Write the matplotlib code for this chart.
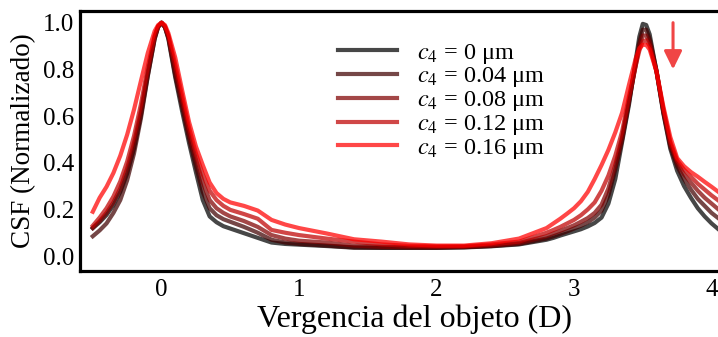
import matplotlib
matplotlib.use('Agg')
import matplotlib.pyplot as plt

plt.rcParams['font.family'] = ['Liberation Serif', 'DejaVu Serif']
plt.rcParams['mathtext.fontset'] = 'stix'

# vergencia del objeto (D)
x = [-0.5, -0.45, -0.4, -0.35, -0.3, -0.25, -0.2, -0.15, -0.1, -0.05, -0.025, 0,
     0.025, 0.05, 0.1, 0.15, 0.2, 0.25, 0.3, 0.35, 0.4, 0.45, 0.5,
     0.6, 0.7, 0.8, 0.9, 1.0, 1.2, 1.4, 1.6, 1.8, 2.0, 2.2, 2.4, 2.6,
     2.8, 2.85, 2.9, 2.95, 3.0, 3.05, 3.1, 3.15, 3.2, 3.25, 3.3, 3.35, 3.4, 3.45, 3.475, 3.5,
     3.525, 3.55, 3.6, 3.65, 3.7, 3.75, 3.8, 3.85, 3.9, 3.95, 4.0, 4.05]

# CSF normalizada, una serie por valor de c4
csf_c0 = [0.12, 0.145, 0.176, 0.218, 0.275, 0.354, 0.461, 0.603, 0.774, 0.932, 0.982, 1.0,
          0.98, 0.93, 0.765, 0.62, 0.485, 0.36, 0.24, 0.17, 0.145, 0.128, 0.118,
          0.098, 0.078, 0.058, 0.052, 0.049, 0.043, 0.036, 0.035, 0.035, 0.035, 0.037, 0.042, 0.05,
          0.07, 0.078, 0.088, 0.097, 0.106, 0.115, 0.127, 0.142, 0.165, 0.225, 0.33, 0.49, 0.65, 0.845, 0.94, 0.995,
          0.99, 0.95, 0.79, 0.61, 0.46, 0.365, 0.3, 0.25, 0.205, 0.17, 0.14, 0.115]
csf_c004 = [0.085, 0.11, 0.14, 0.185, 0.24, 0.325, 0.44, 0.59, 0.77, 0.93, 0.98, 1.0,
            0.98, 0.935, 0.775, 0.64, 0.505, 0.385, 0.275, 0.205, 0.175, 0.158, 0.147,
            0.125, 0.1, 0.07, 0.058, 0.052, 0.045, 0.037, 0.036, 0.036, 0.036, 0.038, 0.043, 0.052,
            0.075, 0.085, 0.095, 0.106, 0.118, 0.13, 0.145, 0.165, 0.195, 0.26, 0.37, 0.5, 0.66, 0.83, 0.915, 0.97,
            0.97, 0.93, 0.795, 0.615, 0.47, 0.385, 0.33, 0.285, 0.245, 0.215, 0.185, 0.162]
csf_c008 = [0.12, 0.15, 0.185, 0.23, 0.29, 0.375, 0.485, 0.62, 0.79, 0.94, 0.983, 1.0,
            0.982, 0.94, 0.795, 0.66, 0.525, 0.415, 0.315, 0.24, 0.205, 0.185, 0.17,
            0.15, 0.125, 0.09, 0.075, 0.066, 0.058, 0.045, 0.04, 0.038, 0.038, 0.04, 0.045, 0.056,
            0.085, 0.097, 0.108, 0.12, 0.132, 0.147, 0.163, 0.185, 0.22, 0.29, 0.39, 0.51, 0.67, 0.82, 0.9, 0.945,
            0.945, 0.915, 0.79, 0.62, 0.48, 0.4, 0.35, 0.315, 0.28, 0.25, 0.225, 0.2]
csf_c012 = [0.13, 0.165, 0.205, 0.255, 0.32, 0.405, 0.515, 0.65, 0.81, 0.945, 0.985, 1.0,
            0.985, 0.945, 0.82, 0.685, 0.55, 0.44, 0.35, 0.28, 0.24, 0.215, 0.198,
            0.18, 0.16, 0.112, 0.1, 0.09, 0.075, 0.062, 0.05, 0.044, 0.042, 0.042, 0.05, 0.062,
            0.1, 0.112, 0.125, 0.14, 0.155, 0.175, 0.2, 0.23, 0.28, 0.345, 0.43, 0.535, 0.685, 0.82, 0.88, 0.92,
            0.925, 0.9, 0.79, 0.63, 0.49, 0.41, 0.37, 0.34, 0.31, 0.285, 0.26, 0.238]
csf_c016 = [0.19, 0.25, 0.297, 0.356, 0.43, 0.52, 0.628, 0.75, 0.87, 0.964, 0.99, 1.0,
            0.99, 0.955, 0.85, 0.71, 0.575, 0.47, 0.39, 0.315, 0.27, 0.245, 0.23,
            0.215, 0.195, 0.155, 0.135, 0.12, 0.097, 0.072, 0.062, 0.05, 0.045, 0.045, 0.055, 0.075,
            0.12, 0.14, 0.16, 0.182, 0.205, 0.235, 0.275, 0.33, 0.39, 0.455, 0.53, 0.615, 0.735, 0.85, 0.89, 0.905,
            0.905, 0.885, 0.79, 0.64, 0.51, 0.42, 0.385, 0.36, 0.34, 0.318, 0.297, 0.275]

series = [csf_c0, csf_c004, csf_c008, csf_c012, csf_c016]
labels = ['$c_4$ = 0 μm', '$c_4$ = 0.04 μm', '$c_4$ = 0.08 μm',
          '$c_4$ = 0.12 μm', '$c_4$ = 0.16 μm']
colors = [(0, 0, 0), (0.25, 0, 0), (0.5, 0, 0), (0.75, 0, 0), (1, 0, 0)]
xticks = [0, 1, 2, 3, 4]
yticks = [0.0, 0.2, 0.4, 0.6, 0.8, 1.0]

fig = plt.figure(figsize=(7.18, 3.37), dpi=100)
ax = fig.add_axes([0.1114, 0.1958, 0.8886, 0.7715])

for y, lab, c in zip(series, labels, colors):
    ax.plot(x, y, color=c, alpha=0.72, lw=3, label=lab, solid_joinstyle='round')

ax.annotate('', xy=(3.72, 0.80), xytext=(3.72, 1.0),
            arrowprops=dict(arrowstyle='-|>,head_length=0.55,head_width=0.27',
                            color='#f04545', lw=2.2, shrinkA=0, shrinkB=0,
                            mutation_scale=20))

ax.set_xlim(-0.593, 4.047)
ax.set_ylim(-0.064, 1.05)
ax.set_xticks(xticks)
ax.set_yticks(yticks)
ax.set_yticklabels([f'{v:.1f}' for v in yticks])
ax.tick_params(axis='both', length=0, labelsize=18)
ax.tick_params(axis='x', pad=6)
ax.tick_params(axis='y', pad=4)
for s in ['left', 'top', 'bottom']:
    ax.spines[s].set_linewidth(2.3)
ax.spines['right'].set_visible(False)

ax.set_xlabel('Vergencia del objeto (D)', fontsize=23, labelpad=2, x=0.525)
ax.set_ylabel('CSF (Normalizado)', fontsize=19.5, labelpad=5)

leg = ax.legend(loc='upper left', bbox_to_anchor=(0.404, 0.882), frameon=False,
                fontsize=17.5, handlelength=2.45, handletextpad=0.8,
                labelspacing=-0.01, borderpad=0, borderaxespad=0)
for h in leg.get_lines():
    h.set_linewidth(3)

fig.savefig('out.png', dpi=100)
